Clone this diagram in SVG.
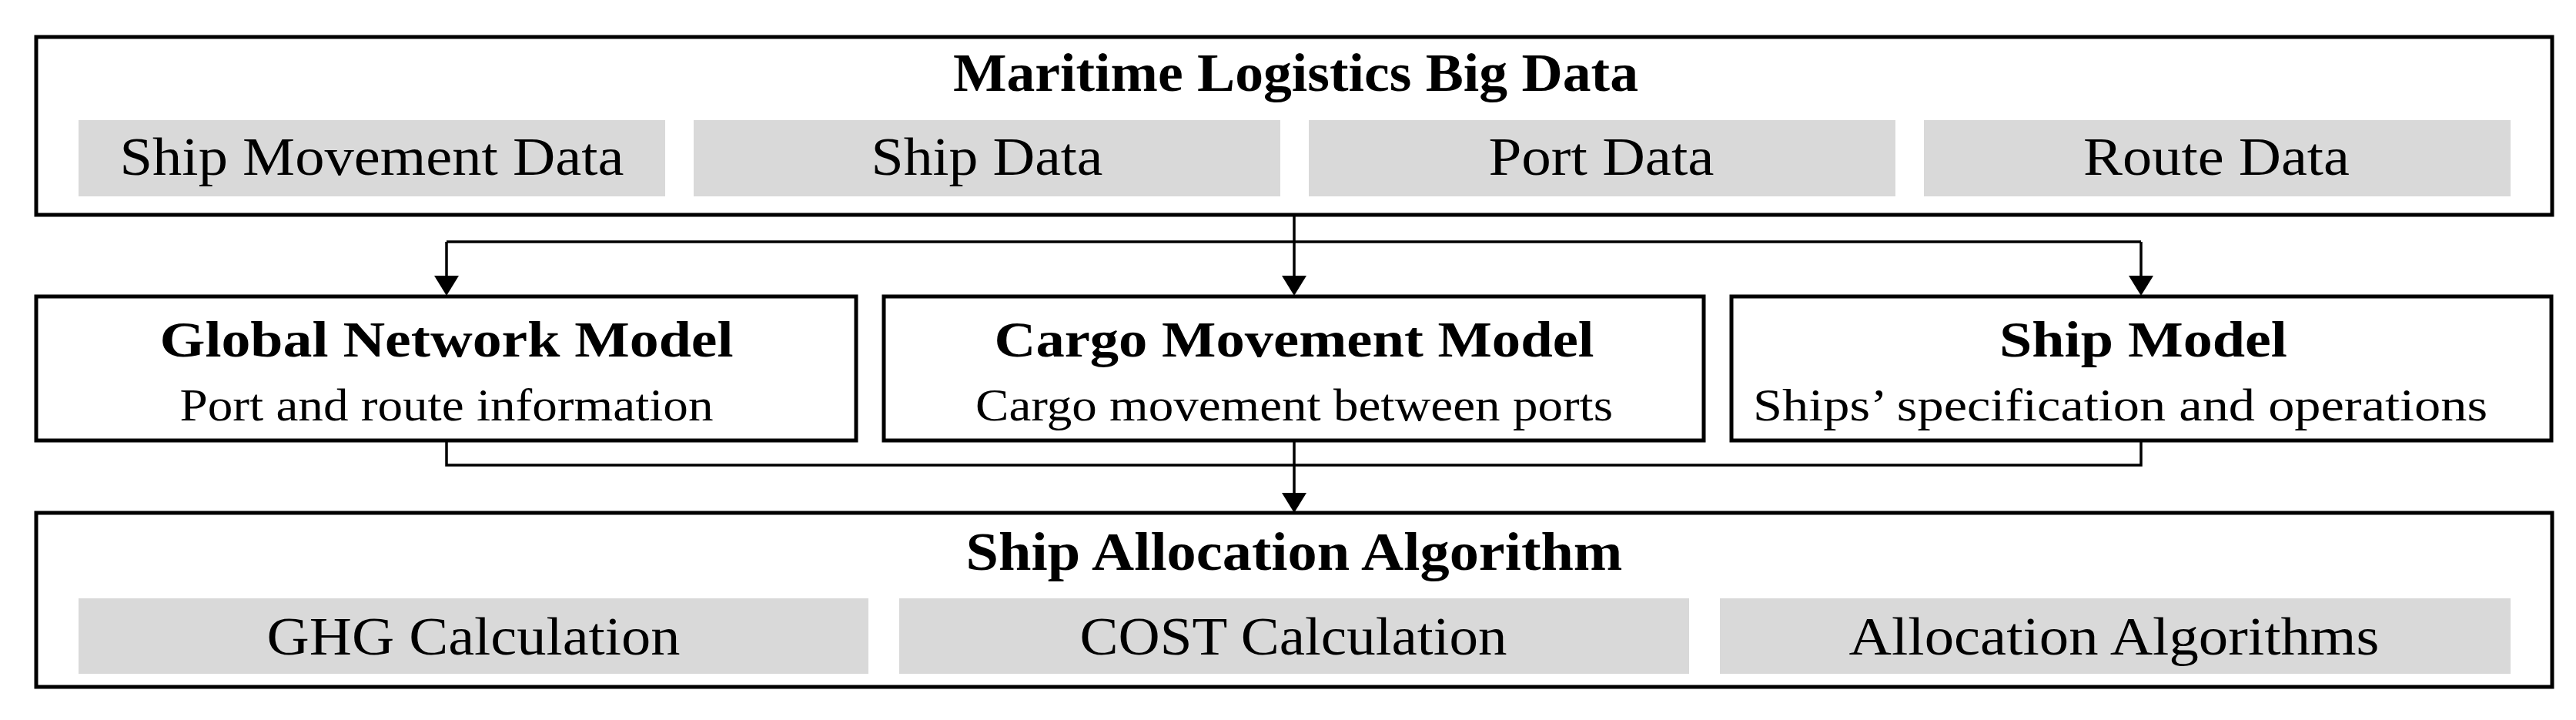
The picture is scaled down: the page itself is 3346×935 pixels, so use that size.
<svg xmlns="http://www.w3.org/2000/svg" width="3346" height="935" viewBox="0 0 3346 935">
<style>
.box{fill:#fff;stroke:#000;stroke-width:5}
.sub{fill:#d9d9d9}
.t{font-family:"Liberation Serif",serif;font-size:70px;fill:#000;text-anchor:middle}
.b{font-weight:bold}
.m{font-size:65px}
.s{font-size:60px}
.con{fill:none;stroke:#000;stroke-width:3.5}
.head{fill:#000}
</style>
<rect width="3346" height="935" fill="#fff"/>
<g id="connectors">
<path class="con" d="M1681,279 V314 M580,314 H2781"/>
<path class="con" d="M580,314 V358 M1681,314 V358 M2781,314 V358"/>
<path class="head" d="M564,358 L596,358 L580,384 Z"/>
<path class="head" d="M1665,358 L1697,358 L1681,384 Z"/>
<path class="head" d="M2765,358 L2797,358 L2781,384 Z"/>
<path class="con" d="M580,572 V604 H2781 V572 M1681,572 V640"/>
<path class="head" d="M1665,640 L1697,640 L1681,666 Z"/>
</g>
<g id="big-data">
<rect class="box" x="47" y="48" width="3268" height="231"/>
<text class="t b" x="1683" y="118" textLength="890" lengthAdjust="spacingAndGlyphs">Maritime Logistics Big Data</text>
<rect class="sub" x="102" y="156" width="762" height="99"/>
<text class="t" x="483" y="227" textLength="655" lengthAdjust="spacingAndGlyphs">Ship Movement Data</text>
<rect class="sub" x="901" y="156" width="762" height="99"/>
<text class="t" x="1282" y="227" textLength="301" lengthAdjust="spacingAndGlyphs">Ship Data</text>
<rect class="sub" x="1700" y="156" width="762" height="99"/>
<text class="t" x="2080" y="227" textLength="293" lengthAdjust="spacingAndGlyphs">Port Data</text>
<rect class="sub" x="2499" y="156" width="762" height="99"/>
<text class="t" x="2879" y="227" textLength="346" lengthAdjust="spacingAndGlyphs">Route Data</text>
</g>
<g id="global-network-model">
<rect class="box" x="47" y="385" width="1065" height="187"/>
<text class="t b m" x="580" y="463" textLength="745" lengthAdjust="spacingAndGlyphs">Global Network Model</text>
<text class="t s" x="580" y="546" textLength="693" lengthAdjust="spacingAndGlyphs">Port and route information</text>
</g>
<g id="cargo-movement-model">
<rect class="box" x="1148" y="385" width="1065" height="187"/>
<text class="t b m" x="1681" y="463" textLength="779" lengthAdjust="spacingAndGlyphs">Cargo Movement Model</text>
<text class="t s" x="1681" y="546" textLength="828" lengthAdjust="spacingAndGlyphs">Cargo movement between ports</text>
</g>
<g id="ship-model">
<rect class="box" x="2249" y="385" width="1065" height="187"/>
<text class="t b m" x="2784" y="463" textLength="374" lengthAdjust="spacingAndGlyphs">Ship Model</text>
<text class="t s" x="2754" y="546" textLength="954" lengthAdjust="spacingAndGlyphs">Ships’ specification and operations</text>
</g>
<g id="ship-allocation">
<rect class="box" x="47" y="666" width="3268" height="226"/>
<text class="t b" x="1681" y="740" textLength="853" lengthAdjust="spacingAndGlyphs">Ship Allocation Algorithm</text>
<rect class="sub" x="102" y="777" width="1026" height="98"/>
<text class="t" x="615" y="850" textLength="537" lengthAdjust="spacingAndGlyphs">GHG Calculation</text>
<rect class="sub" x="1168" y="777" width="1026" height="98"/>
<text class="t" x="1680" y="850" textLength="555" lengthAdjust="spacingAndGlyphs">COST Calculation</text>
<rect class="sub" x="2234" y="777" width="1027" height="98"/>
<text class="t" x="2746" y="850" textLength="689" lengthAdjust="spacingAndGlyphs">Allocation Algorithms</text>
</g>
</svg>
